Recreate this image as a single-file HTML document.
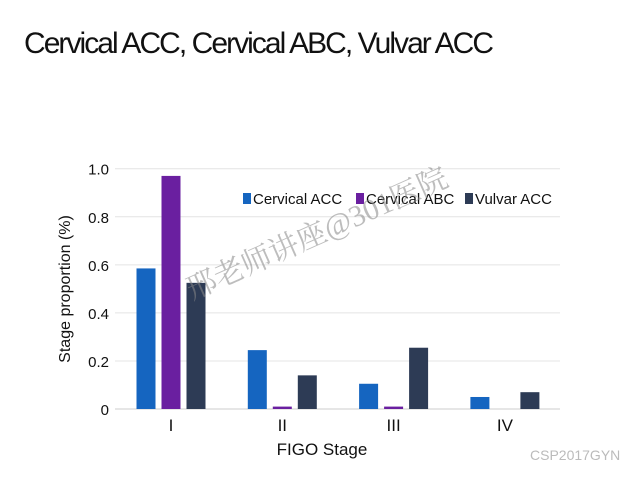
<!DOCTYPE html>
<html><head><meta charset="utf-8"><style>
html,body{margin:0;padding:0;background:#fff;}
svg{display:block;font-family:"Liberation Sans",Arial,sans-serif;}
</style></head><body>
<svg id="chart" width="640" height="480">
<text x="24" y="53" font-size="30" fill="#111" textLength="470" lengthAdjust="spacing">Cervical ACC, Cervical ABC, Vulvar ACC</text>
<g id="grid"></g><g id="bars"></g><g id="xlabels"></g>
<text x="70" y="289" font-size="16" fill="#111" text-anchor="middle" transform="rotate(-90 70 289)">Stage proportion (%)</text>
<text x="322" y="455" font-size="17" fill="#111" text-anchor="middle">FIGO Stage</text>
<g>
<rect x="243" y="193" width="8" height="11" fill="#1565c0"></rect>
<text x="253" y="204" font-size="15" fill="#111">Cervical ACC</text>
<rect x="356" y="193" width="8" height="11" fill="#6a1fa0"></rect>
<text x="366" y="204" font-size="15" fill="#111">Cervical ABC</text>
<rect x="465" y="193" width="8" height="11" fill="#2d3b55"></rect>
<text x="475" y="204" font-size="15" fill="#111">Vulvar ACC</text>
</g>
<text x="192" y="300" font-size="30" fill="#888" opacity="0.55" transform="rotate(-24 192 300)" font-family="'Liberation Serif','Noto Serif CJK SC',serif">邢老师讲座@301医院</text>
<text x="530" y="460" font-size="14" fill="#bbb">CSP2017GYN</text>
</svg>
<script>
const categories = ["I","II","III","IV"];
const cervicalACC = [0.585,0.245,0.105,0.05];
const cervicalABC = [0.97,0.01,0.01,0];
const vulvarACC = [0.525,0.14,0.255,0.07];
const yTicks = [0,0.2,0.4,0.6,0.8,1.0];
const yTickLabels = ["0","0.2","0.4","0.6","0.8","1.0"];
const seriesNames = ["cervical-acc","cervical-abc","vulvar-acc"];
const NS="http://www.w3.org/2000/svg";
const y0=409, y1=168.7, xL=115, xR=560, cat0=171, catStep=111.3, barW=19, off=[-25,0,25];
const colors=["#1565c0","#6a1fa0","#2d3b55"];
function yS(v){return y0-(y1-y0)*-v;}
function xS(i){return cat0+i*catStep;}
function mk(t,a,p){const e=document.createElementNS(NS,t);for(const k in a)e.setAttribute(k,a[k]);p.appendChild(e);return e;}
const grid=document.getElementById('grid');
yTicks.forEach((t,i)=>{
 const l=mk('line',{x1:xL,x2:xR,y1:yS(t),y2:yS(t),stroke:i===0?'#ccc':'#e4e4e4','stroke-width':1},grid);
 
 
 const tx=mk('text',{x:109,y:yS(t)+6,'font-size':15,fill:'#111','text-anchor':'end'},grid);
 tx.textContent=yTickLabels[i];
 
 
});
const bars=document.getElementById('bars');
[cervicalACC,cervicalABC,vulvarACC].forEach((s,si)=>{
 s.forEach((v,i)=>{
  const r=mk('rect',{x:xS(i)+off[si]-barW/2,y:yS(v),width:barW,height:Math.max(0,y0-yS(v)),fill:colors[si]},bars);
  
  
 });
});
const xl=document.getElementById('xlabels');
categories.forEach((c,i)=>{
 const t=mk('text',{x:xS(i),y:431,'font-size':17,fill:'#111','text-anchor':'middle'},xl);
 t.textContent=c;
 
 
});
</script>
</body></html>
